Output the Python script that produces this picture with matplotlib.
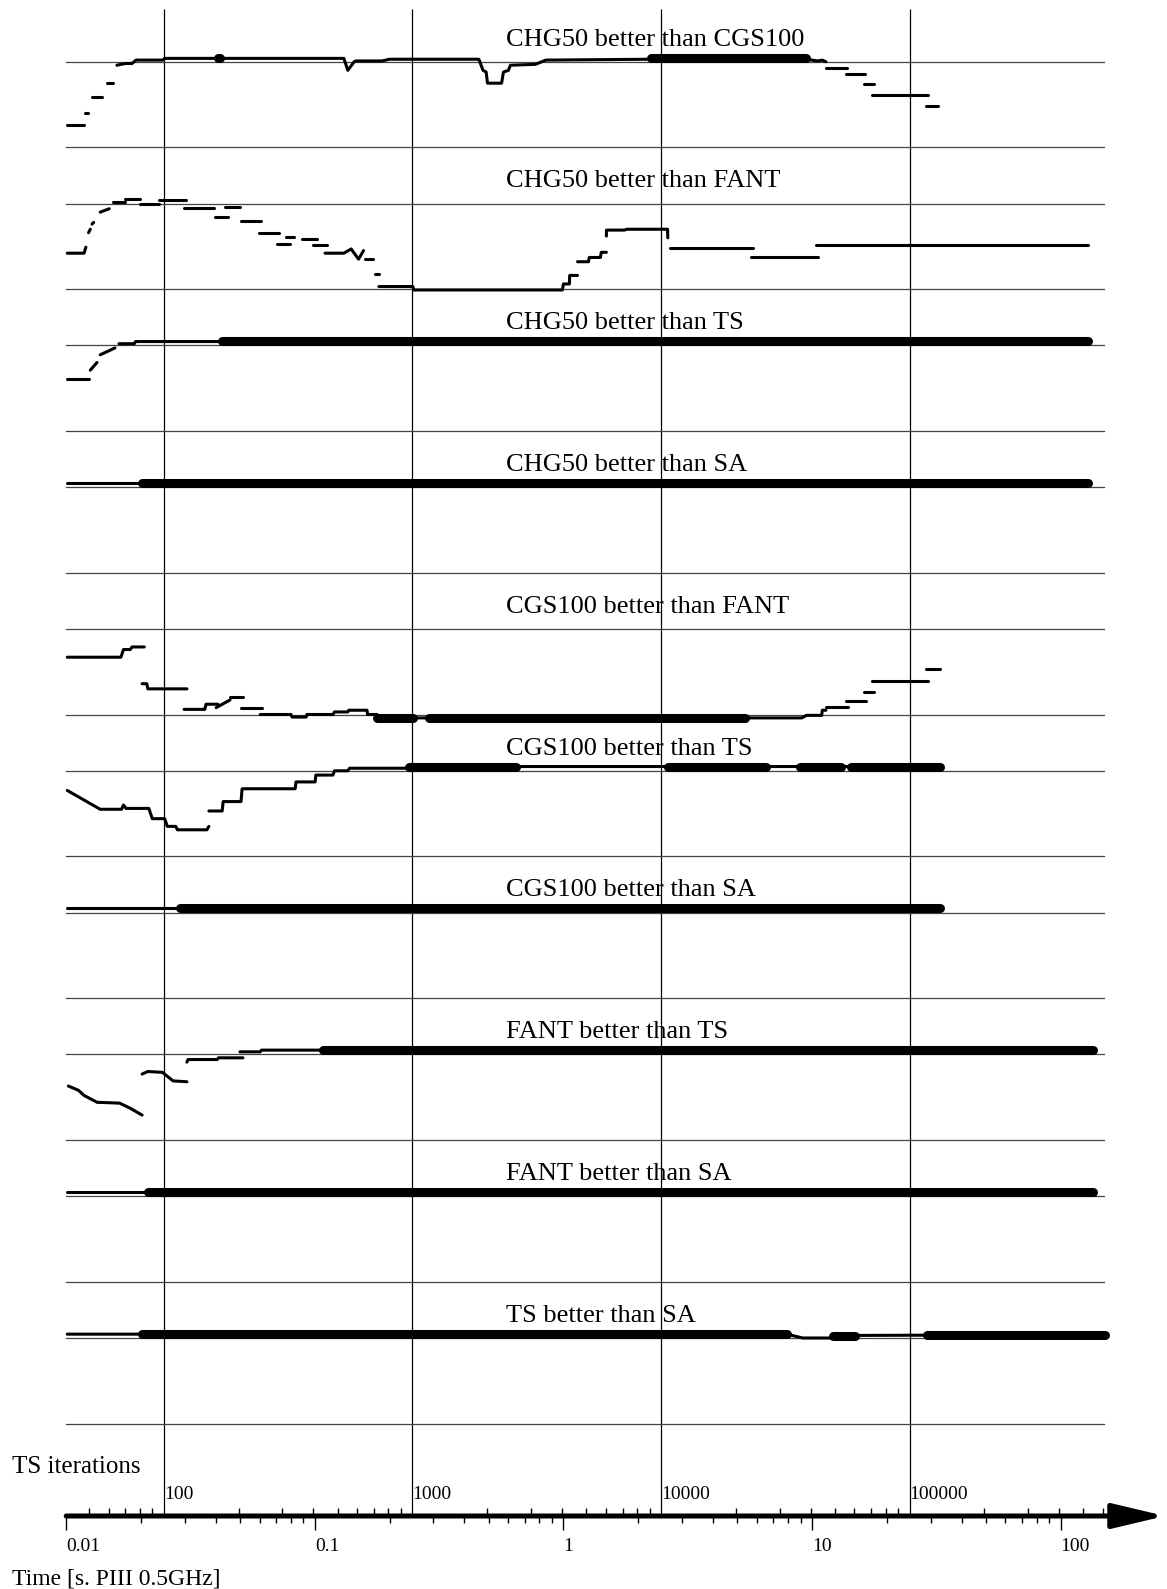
"""
Pairwise comparison of heuristics over run time (TS iterations on top scale).
"""
import matplotlib
matplotlib.use("Agg")
import matplotlib.pyplot as plt
from matplotlib.ticker import NullFormatter

plt.rcParams["font.family"] = ["Liberation Serif", "DejaVu Serif"]

# ---------------------------------------------------------------- data
# time in seconds, value = fraction (1 = upper line, 0 = lower line)
SEC_PER_ITER = 2.47e-4

LABELS = [
    "CHG50 better than CGS100", "CHG50 better than FANT", "CHG50 better than TS",
    "CHG50 better than SA", "CGS100 better than FANT", "CGS100 better than TS",
    "CGS100 better than SA", "FANT better than TS", "FANT better than SA",
    "TS better than SA",
]

chg_cgs = [
    [(0.0101, .26), (0.0118, .26)],
    [(0.0119, .40), (0.0122, .40)],
    [(0.0127, .59), (0.0139, .59)],
    [(0.0146, .75), (0.0154, .75)],
    [(0.016, .96), (0.0166, .97), (0.0173, .98), (0.0184, .98), (0.0191, 1.02),
     (0.0245, 1.02), (0.0249, 1.04), (0.1309, 1.04), (0.1358, .90), (0.1439, 1.0),
     (0.1462, 1.01), (0.1862, 1.01), (0.2, 1.03), (0.457, 1.03), (0.475, .90),
     (0.489, .88), (0.495, .75), (0.564, .75), (0.574, .88), (0.601, .90),
     (0.612, .96), (0.771, .97), (0.85, 1.02), (2.26, 1.03), (9.44, 1.03),
     (10.54, 1.01), (11.0, 1.02), (11.38, 1.0)],
    [(11.38, .93), (13.8, .93)],
    [(13.68, .86), (16.33, .86)],
    [(16.18, .74), (17.74, .74)],
    [(17.42, .61), (29.24, .61)],
    [(28.71, .48), (32.1, .48)],
]
chg_cgs_bold = [(0.0408, 0.0416, 1.04), (2.26, 9.44, 1.05)]

chg_fant = [
    [(0.0101, .42), (0.0118, .42), (0.012, .49)],
    [(0.0123, .66), (0.0125, .70)],
    [(0.0127, .76), (0.0129, .78)],
    [(0.0137, .90), (0.0149, .94)],
    [(0.0154, 1.02), (0.0173, 1.02)],
    [(0.0173, 1.05), (0.0198, 1.05)],
    [(0.0198, 1.0), (0.0236, 1.0)],
    [(0.0236, 1.04), (0.0303, 1.04)],
    [(0.0298, .95), (0.0393, .95)],
    [(0.0397, .84), (0.0449, .84)],
    [(0.0436, .96), (0.05, .96)],
    [(0.0505, .80), (0.0608, .80)],
    [(0.0597, .66), (0.0718, .66)],
    [(0.0705, .53), (0.0794, .53)],
    [(0.0766, .61), (0.0824, .61)],
    [(0.0889, .59), (0.1021, .59)],
    [(0.0984, .51), (0.112, .51)],
    [(0.1099, .42), (0.1309, .42), (0.14, .47), (0.15, .35), (0.157, .45)],
    [(0.1592, .35), (0.1714, .35)],
    [(0.1746, .18), (0.1811, .18)],
    [(0.1811, .03), (0.248, .03), (0.25, -.01), (0.991, -.01), (1.0, .06),
     (1.057, .06), (1.06, .16), (1.14, .16)],
    [(1.14, .32), (1.262, .32), (1.27, .37), (1.409, .37), (1.42, .43), (1.489, .43)],
    [(1.489, .62), (1.49, .69), (1.762, .69), (1.8, .70), (2.624, .70), (2.63, .60)],
    [(2.673, .48), (5.768, .48)],
    [(5.662, .37), (10.54, .37)],
    [(10.35, .51), (129.4, .51)],
]
chg_fant_bold = []

chg_ts = [
    [(0.0101, .61), (0.0123, .61)],
    [(0.0125, .71), (0.0133, .80)],
    [(0.0137, .89), (0.0157, .97)],
    [(0.0163, 1.02), (0.0188, 1.02), (0.019, 1.045), (0.0424, 1.045)],
]
chg_ts_bold = [(0.0424, 129.4, 1.05)]

chg_sa = [[(0.0101, 1.047), (0.0202, 1.047)]]
chg_sa_bold = [(0.0202, 129.4, 1.047)]

cgs_fant = [
    [(0.0101, .67), (0.0166, .67), (0.017, .76), (0.0181, .76), (0.0184, .79),
     (0.0206, .79)],
    [(0.0202, .36), (0.0211, .36), (0.0213, .30), (0.0306, .30)],
    [(0.0298, .06), (0.0361, .06), (0.0365, .12), (0.0408, .12)],
    [(0.0401, .08), (0.0456, .17)],
    [(0.0456, .20), (0.0514, .20)],
    [(0.0505, .08), (0.0614, .08)],
    [(0.0603, 0.0), (0.0802, 0.0), (0.081, -.03), (0.0923, -.03), (0.093, 0.0),
     (0.1183, 0.0), (0.12, .03), (0.1358, .03), (0.137, .05), (0.1622, .05),
     (0.163, 0.0), (0.1778, 0.0), (0.18, -.04), (9.1, -.04), (9.5, -.01),
     (10.94, -.01), (11.0, .05), (11.38, .05)],
    [(11.38, .09), (13.93, .09)],
    [(13.68, .16), (16.48, .16)],
    [(16.18, .26), (17.74, .26)],
    [(17.42, .39), (29.24, .39)],
    [(28.71, .53), (32.58, .53)],
]
cgs_fant_bold = [(0.1778, 0.2483, -.045), (0.2877, 5.358, -.045)]

cgs_ts = [
    [(0.0101, .77), (0.0137, .55), (0.0167, .55), (0.0170, .60), (0.0174, .56),
     (0.0215, .56), (0.0222, .44), (0.0249, .44), (0.0255, .35), (0.0276, .35),
     (0.028, .31), (0.0368, .31), (0.0375, .35)],
    [(0.0375, .53), (0.0424, .53), (0.0428, .64), (0.0505, .64), (0.051, .79),
     (0.0834, .79), (0.084, .87), (0.1003, .87), (0.101, .95), (0.1183, .95),
     (0.12, 1.0), (0.1358, 1.0), (0.138, 1.03), (0.2393, 1.03), (0.245, 1.05),
     (32.58, 1.05)],
]
cgs_ts_bold = [(0.2393, 0.647, 1.05), (2.624, 6.516, 1.05),
               (8.93, 13.06, 1.05), (14.32, 32.58, 1.05)]

cgs_sa = [[(0.0101, 1.05), (0.0287, 1.05)]]
cgs_sa_bold = [(0.0287, 32.58, 1.05)]

fant_ts = [
    [(0.0102, .63), (0.0112, .58), (0.0118, .52), (0.0133, .44), (0.0164, .43),
     (0.0181, .37), (0.0202, .29)],
    [(0.0202, .77), (0.0213, .80), (0.0244, .79), (0.0269, .69), (0.0306, .68)],
    [(0.0306, .91), (0.0309, .94), (0.0405, .94), (0.041, .96), (0.0514, .96)],
    [(0.05, 1.03), (0.0603, 1.03), (0.061, 1.05), (0.1079, 1.05)],
]
fant_ts_bold = [(0.1079, 135.5, 1.05)]

fant_sa = [[(0.0101, 1.05), (0.0213, 1.05)]]
fant_sa_bold = [(0.0213, 135.5, 1.05)]

ts_sa = [[(0.0101, 1.045), (7.925, 1.045), (9.18, 1.0), (12.13, 1.0), (12.6, 1.02),
          (14.86, 1.03), (150.7, 1.04)]]
ts_sa_bold = [(0.0202, 7.925, 1.045), (12.13, 14.86, 1.02), (28.97, 150.7, 1.04)]

PANELS = [
    (chg_cgs, chg_cgs_bold), (chg_fant, chg_fant_bold), (chg_ts, chg_ts_bold),
    (chg_sa, chg_sa_bold), (cgs_fant, cgs_fant_bold), (cgs_ts, cgs_ts_bold),
    (cgs_sa, cgs_sa_bold), (fant_ts, fant_ts_bold), (fant_sa, fant_sa_bold),
    (ts_sa, ts_sa_bold),
]

TIME_MAJOR = [0.01, 0.1, 1, 10, 100]
TIME_LABELS = ["0.01", "0.1", "1", "10", "100"]
TIME_MINOR = [0.02, 0.03, 0.04, 0.05, 0.06, 0.07, 0.08, 0.09,
              0.2, 0.3, 0.4, 0.5, 0.6, 0.7, 0.8, 0.9,
              2, 3, 4, 5, 6, 7, 8, 9,
              20, 30, 40, 50, 60, 70, 80, 90]
ITER_MAJOR = [100, 1000, 10000, 100000]
ITER_LABELS = ["100", "1000", "10000", "100000"]
ITER_MINOR = [50, 60, 70, 80, 90,
              200, 300, 400, 500, 600, 700, 800, 900,
              2000, 3000, 4000, 5000, 6000, 7000, 8000, 9000,
              20000, 30000, 40000, 50000, 60000, 70000, 80000, 90000,
              200000, 300000, 400000, 500000, 600000]

# ---------------------------------------------------------------- layout (pixels)
W, H = 1167, 1589
X0, DECADE = 66.2, 248.6        # x of t=0.01 and width of one decade
T0 = 0.01
X_GRID_END = 1104
PANEL_TOP, PANEL_STEP, PANEL_H = 61.8, 141.8, 85.5
AXIS_Y = 1516


def t_at(px):
    return T0 * 10 ** ((px - X0) / DECADE)


fig = plt.figure(figsize=(W / 100, H / 100), dpi=100)

# background: vertical iteration lines + arrow
bg = fig.add_axes([X0 / W, 0, (W - X0) / W, 1])
bg.set_xscale("log")
bg.set_xlim(T0, t_at(W))
bg.set_ylim(H, 0)
bg.axis("off")
bg.vlines([it * SEC_PER_ITER for it in ITER_MAJOR], 9, AXIS_Y, color="black", lw=0.9)
bg.annotate("", xy=(t_at(W - 2), AXIS_Y), xytext=(T0, AXIS_Y),
            arrowprops=dict(arrowstyle="-|>,head_length=1.6,head_width=0.38",
                            mutation_scale=20, lw=3.6, color="black",
                            shrinkA=0, shrinkB=0, capstyle="round"))

# panels
for i, (label, (pieces, bold)) in enumerate(zip(LABELS, PANELS)):
    top = PANEL_TOP + i * PANEL_STEP
    ax = fig.add_axes([X0 / W, 1 - (top + PANEL_H) / H, (X_GRID_END - X0) / W, PANEL_H / H])
    ax.set_xscale("log")
    ax.set_xlim(T0, t_at(X_GRID_END))
    ax.set_ylim(0, 1)
    ax.axis("off")
    ax.axhline(1, color="#444444", lw=0.9, clip_on=False)
    ax.axhline(0, color="#444444", lw=0.9, clip_on=False)
    for piece in pieces:
        ts = [p[0] for p in piece]
        vs = [p[1] for p in piece]
        ax.plot(ts, vs, color="black", lw=2.2, solid_capstyle="round",
                solid_joinstyle="round", clip_on=False)
    for t0, t1, v in bold:
        ax.plot([t0, t1], [v, v], color="black", lw=6.5, solid_capstyle="round",
                clip_on=False)
    ax.text(0.4238, 1.19, label, transform=ax.transAxes, fontsize=19,
            ha="left", va="baseline")

# time axis (below) and iteration axis (above)
ax_t = fig.add_axes([X0 / W, 1 - AXIS_Y / H, (W - X0) / W, 1e-4])
ax_t.set_frame_on(False)
ax_t.set_xscale("log")
ax_t.set_xlim(T0, t_at(W))
ax_t.set_yticks([])
ax_t.set_xticks(TIME_MAJOR, labels=TIME_LABELS)
ax_t.set_xticks(TIME_MINOR, minor=True)
ax_t.xaxis.set_minor_formatter(NullFormatter())
ax_t.tick_params(axis="x", which="major", direction="out", length=10, width=1,
                 pad=6, labelsize=14)
ax_t.tick_params(axis="x", which="minor", direction="out", length=5, width=1)
for lab in ax_t.get_xticklabels():
    lab.set_horizontalalignment("left")

ax_i = ax_t.twiny()
ax_i.set_frame_on(False)
ax_i.set_xscale("log")
ax_i.set_xlim(T0 / SEC_PER_ITER, t_at(W) / SEC_PER_ITER)
ax_i.set_xticks(ITER_MAJOR, labels=ITER_LABELS)
ax_i.set_xticks(ITER_MINOR, minor=True)
ax_i.xaxis.set_minor_formatter(NullFormatter())
ax_i.tick_params(axis="x", which="major", direction="out", length=0, pad=9,
                 labelsize=14)
ax_i.tick_params(axis="x", which="minor", direction="out", length=6, width=1)
for lab in ax_i.get_xticklabels():
    lab.set_horizontalalignment("left")

fig.text(12 / W, 1 - 1467 / H, "TS iterations", fontsize=18, va="center", ha="left")
fig.text(12 / W, 1 - 1584 / H, "Time [s. PIII 0.5GHz]", fontsize=17,
         va="baseline", ha="left")

fig.savefig("out.png", dpi=100)
